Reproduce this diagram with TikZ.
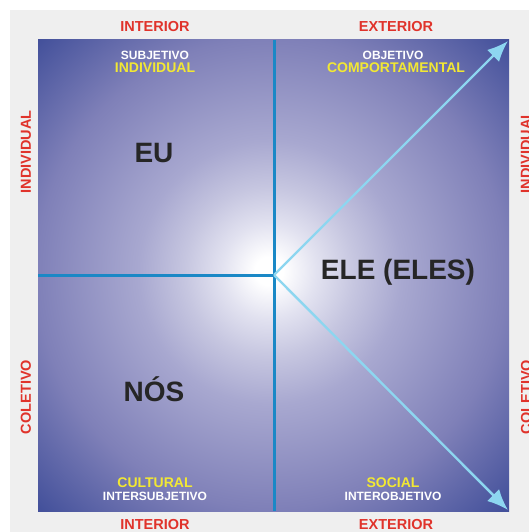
\documentclass[tikz,border=0pt]{standalone}
\usepackage{fontspec}
\setmainfont{Liberation Sans}
\usetikzlibrary{arrows.meta}
\definecolor{bggray}{HTML}{EFEFEF}
\definecolor{labred}{HTML}{E0332B}
\definecolor{labyellow}{HTML}{F2E833}
\definecolor{axisblue}{HTML}{1A88C6}
\definecolor{arrowblue}{HTML}{8DD6F0}
\definecolor{qdark}{HTML}{44519B}
\definecolor{qmid}{HTML}{7F80B8}
\definecolor{qlight}{HTML}{A8A8D0}
\definecolor{qpale}{HTML}{C6C6E0}
\definecolor{qwhite}{HTML}{E2E2F0}
\pgfdeclareradialshading{quadshade}{\pgfpoint{-0.5bp}{0.5bp}}{%
  color(0bp)=(white);
  color(1.5bp)=(white);
  color(5bp)=(qwhite);
  color(9bp)=(qpale);
  color(14bp)=(qlight);
  color(25bp)=(qmid);
  color(35bp)=(qdark);
  color(50bp)=(qdark)}
\tikzset{
  redlab/.style={text=labred,font=\bfseries\fontsize{14.5}{14.5}\selectfont,inner sep=0pt},
  whitelab/.style={text=white,font=\bfseries\fontsize{12}{12}\selectfont,inner sep=0pt},
  yellowlab/.style={text=labyellow,font=\bfseries\fontsize{14}{14}\selectfont,inner sep=0pt},
  biglab/.style={text=black!85,font=\bfseries\fontsize{28}{28}\selectfont,inner sep=0pt},
  axisline/.style={draw=axisblue,line width=3pt},
  arrowline/.style={draw=arrowblue,line width=2.4pt,-{Latex[length=21pt,width=17pt]}}
}
\begin{document}
\begin{tikzpicture}[x=1pt,y=-1pt]
\useasboundingbox (0,0) rectangle (529,532);
\fill[white] (0,0) rectangle (529,532);
\fill[bggray] (10,10) rectangle (529,532);
\shade[shading=quadshade] (38,40) rectangle (509,511);
% coordinates
\coordinate (c) at (274,275);
\coordinate (top) at (274,40);
\coordinate (bot) at (274,511);
\coordinate (lft) at (38,275);
\coordinate (tr) at (508,41);
\coordinate (br) at (508,510);
% axes
\draw[axisline] (top) -- (bot);
\draw[axisline] (lft) -- (c);
\draw[arrowline] (c) -- (tr);
\draw[arrowline] (c) -- (br);
% outer labels
\node[redlab] (int1) at (155,26.5) {INTERIOR};
\node[redlab] (ext1) at (396,26.5) {EXTERIOR};
\node[redlab] (int2) at (155,525) {INTERIOR};
\node[redlab] (ext2) at (396,525) {EXTERIOR};
\node[redlab,rotate=90] (ind1) at (26,152) {INDIVIDUAL};
\node[redlab,rotate=90] (col1) at (26,397) {COLETIVO};
\node[redlab,rotate=90] (ind2) at (526,152) {INDIVIDUAL};
\node[redlab,rotate=90] (col2) at (526,397) {COLETIVO};
% quadrant sublabels
\node[whitelab] (subj) at (155,55) {SUBJETIVO};
\node[yellowlab] (indv) at (155,68) {INDIVIDUAL};
\node[whitelab] (obj) at (393,55) {OBJETIVO};
\node[yellowlab] (comp) at (396,68) {COMPORTAMENTAL};
\node[yellowlab] (cult) at (155,483) {CULTURAL};
\node[whitelab] (isubj) at (155,496) {INTERSUBJETIVO};
\node[yellowlab] (soc) at (393,483) {SOCIAL};
\node[whitelab] (iobj) at (393,496) {INTEROBJETIVO};
% big labels
\node[biglab] (eu) at (154,153) {EU};
\node[biglab] (nos) at (154,389) {NÓS};
\node[biglab] (ele) at (398,272) {ELE (ELES)};
\end{tikzpicture}
\end{document}
